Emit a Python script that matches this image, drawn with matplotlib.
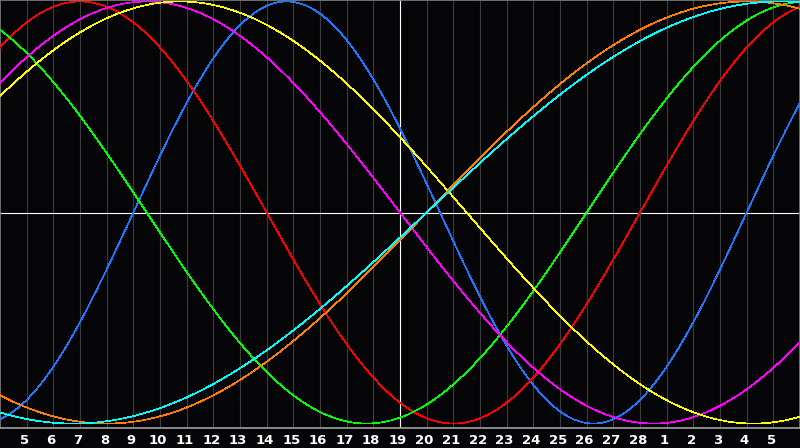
import numpy as np
import matplotlib

matplotlib.use("Agg")
import matplotlib.pyplot as plt


# biorhythm cycles shown on the chart (period in days)
CYCLE_NAMES = ["physical", "emotional", "intellectual", "intuitive",
               "aesthetic", "awareness", "spiritual"]
PERIODS = [23, 28, 33, 38, 43, 48, 53]
COLORS = ["#1e78ff", "#ff0000", "#00ff00", "#ff00ff",
          "#ffff00", "#ff8000", "#00ffff"]

# days lived at the left edge of the chart (4 Feb)
DAYS_LIVED = 22880
N_DAYS = 30

# day-of-month labels for the inner grid lines (5 Feb .. 5 Mar)
DAY_LABELS = list(range(5, 29)) + list(range(1, 6))
TODAY_INDEX = 15  # the 19th, marked by the white line

BG = "#050508"
GRID = "#3c3c3c"
BORDER = "#a0a0a0"


def main() -> None:
    fig = plt.figure(figsize=(8.0, 4.48), dpi=100, facecolor=BG)
    ax = fig.add_axes([0, 20 / 448, 1, 428 / 448])
    ax.set_facecolor(BG)
    ax.set_xlim(0, N_DAYS)
    ax.set_ylim(-1.021, 1.007)

    for i in range(1, N_DAYS):
        ax.axvline(i, color=GRID, lw=0.8, zorder=1)

    days = np.linspace(0, N_DAYS, 1201)
    for period, color in zip(PERIODS, COLORS):
        values = np.sin(2 * np.pi * (DAYS_LIVED + days) / period)
        ax.plot(days, values, color=color, lw=0.5, zorder=3, antialiased=False)

    ax.axvline(TODAY_INDEX, color="white", lw=0.8, zorder=2)
    ax.axhline(0, color="white", lw=0.8, zorder=2)

    ax.set_yticks([])
    ax.set_xticks(np.arange(1, N_DAYS) - 0.08)
    ax.set_xticklabels([str(d) for d in DAY_LABELS], color="white",
                       fontsize=9.5, fontweight="bold", family="DejaVu Sans")
    ax.tick_params(axis="x", length=0, pad=4)

    for side in ["left", "top", "right"]:
        ax.spines[side].set_color("#808080")
        ax.spines[side].set_linewidth(1.2)
    ax.spines["bottom"].set_color(BORDER)
    ax.spines["bottom"].set_linewidth(1.2)

    fig.savefig("out.png", dpi=100, facecolor=BG)
    plt.close(fig)


if __name__ == "__main__":
    main()
